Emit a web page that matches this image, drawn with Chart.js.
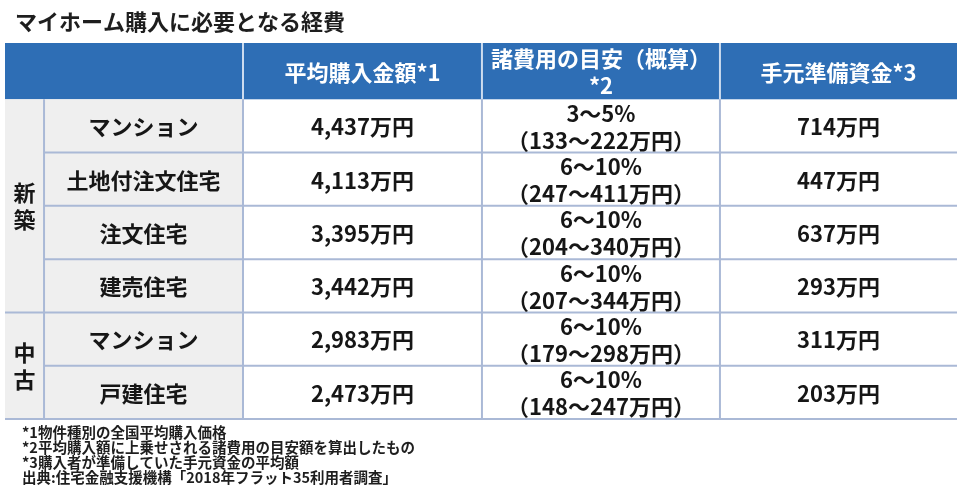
<!DOCTYPE html>
<html lang="ja">
<head>
<meta charset="utf-8">
<title>マイホーム購入に必要となる経費</title>
<script src="https://cdn.jsdelivr.net/npm/chart.js@4/dist/chart.umd.min.js"></script>
<style>
  html, body { margin: 0; padding: 0; background: #ffffff; }
  #wrap { width: 960px; height: 495px; }
</style>
</head>
<body>
<div id="wrap"><canvas id="c" width="960" height="495"></canvas></div>
<script>
// ---- data ----
const titleText = 'マイホーム購入に必要となる経費';
const headers = ['平均購入金額*1', '諸費用の目安（概算）\n*2', '手元準備資金*3'];
const groups = ['新築', '新築', '新築', '新築', '中古', '中古'];
const categories = ['マンション', '土地付注文住宅', '注文住宅', '建売住宅', 'マンション', '戸建住宅'];
const avgPrice = [4437, 4113, 3395, 3442, 2983, 2473];      // 万円
const rateMin = [3, 6, 6, 6, 6, 6];                         // %
const rateMax = [5, 10, 10, 10, 10, 10];                    // %
const feeMin = [133, 247, 204, 207, 179, 148];              // 万円
const feeMax = [222, 411, 340, 344, 298, 247];              // 万円
const ownFunds = [714, 447, 637, 293, 311, 203];            // 万円
const footnotes = [
  '*1物件種別の全国平均購入価格',
  '*2平均購入額に上乗せされる諸費用の目安額を算出したもの',
  '*3購入者が準備していた手元資金の平均額',
  '出典:住宅金融支援機構「2018年フラット35利用者調査」'
];
const rowKeys = ['header'].concat(categories.map((c, i) => groups[i] + c));

// ---- styling / layout (not data) ----
const FONT = '"Noto Sans CJK JP", "Noto Sans", sans-serif';
const style = {
  colEdges: [0, 4.1, 25.0, 50.1, 75.1, 100],   // x-scale units (0..100)
  headerExtra: 3,
  headerBlue: '#2e6eb5',
  headerDivider: '#cddcef',
  labelBg: '#efefef',
  border: '#aab9d6',
  text: '#161616',
  cellFont: 'bold 22px ' + FONT,
  titleFont: 'bold 22px ' + FONT,
  noteFont: 'bold 14.5px ' + FONT,
  lineGap: 27
};

const fmt = n => n.toLocaleString('en-US');

function cellText(i) {
  return [
    [categories[i]],
    [fmt(avgPrice[i]) + '万円'],
    [rateMin[i] + '～' + rateMax[i] + '%', '（' + feeMin[i] + '～' + feeMax[i] + '万円）'],
    [fmt(ownFunds[i]) + '万円']
  ];
}

function drawLines(ctx, lines, cx, cy, gap) {
  const n = lines.length;
  lines.forEach((t, k) => {
    ctx.fillText(t, cx, cy + (k - (n - 1) / 2) * gap);
  });
}

const tablePlugin = {
  id: 'tablePlugin',
  afterDraw(chart) {
    const ctx = chart.ctx;
    const xs = chart.scales.x, ys = chart.scales.y;
    const area = chart.chartArea;
    const X = style.colEdges.map(v => xs.getPixelForValue(v));
    const band = (area.bottom - area.top) / rowKeys.length;
    const rowTop = i => ys.getPixelForValue(i) - band / 2;
    const rowBot = i => ys.getPixelForValue(i) + band / 2;
    const left = X[0], right = X[X.length - 1];

    ctx.save();
    // title
    ctx.fillStyle = '#1e1e1e';
    ctx.font = style.titleFont;
    ctx.textAlign = 'left';
    ctx.textBaseline = 'middle';
    ctx.fillText(titleText, 15, area.top - 24);

    // header band
    const hTop = rowTop(0) - style.headerExtra, hBot = rowBot(0);
    ctx.fillStyle = style.headerBlue;
    ctx.fillRect(left, hTop, right - left, hBot - hTop);
    ctx.strokeStyle = style.headerDivider;
    ctx.lineWidth = 2;
    for (let c = 2; c <= 4; c++) {
      ctx.beginPath();
      ctx.moveTo(X[c], hTop);
      ctx.lineTo(X[c], hBot);
      ctx.stroke();
    }
    ctx.fillStyle = '#ffffff';
    ctx.font = style.cellFont;
    ctx.textAlign = 'center';
    headers.forEach((h, k) => {
      const cx = (X[k + 2] + X[k + 3]) / 2;
      drawLines(ctx, h.split('\n'), cx, (hTop + hBot) / 2 + 1, style.lineGap);
    });

    // label columns background
    const bTop = rowBot(0), bBot = rowBot(rowKeys.length - 1);
    ctx.fillStyle = style.labelBg;
    ctx.fillRect(left, bTop, X[2] - left, bBot - bTop);

    // grid lines
    ctx.strokeStyle = style.border;
    ctx.lineWidth = 2;
    for (let i = 1; i < rowKeys.length; i++) {
      const r = i - 1;
      const y = rowBot(i);
      const groupEnd = r === groups.length - 1 || groups[r + 1] !== groups[r];
      ctx.beginPath();
      ctx.moveTo(groupEnd ? left : X[1], y);
      ctx.lineTo(right, y);
      ctx.stroke();
    }
    for (let c = 1; c <= 4; c++) {
      ctx.beginPath();
      ctx.moveTo(X[c], bTop);
      ctx.lineTo(X[c], bBot);
      ctx.stroke();
    }

    // group labels (vertical)
    ctx.fillStyle = style.text;
    ctx.font = style.cellFont;
    let start = 0;
    for (let r = 0; r <= groups.length; r++) {
      if (r === groups.length || groups[r] !== groups[start]) {
        const top = rowTop(start + 1), bot = rowBot(r);
        drawLines(ctx, Array.from(groups[start]), (X[0] + X[1]) / 2, (top + bot) / 2, style.lineGap);
        start = r;
      }
    }

    // cells
    for (let r = 0; r < categories.length; r++) {
      const cy = ys.getPixelForValue(r + 1) + 1;
      cellText(r).forEach((lines, k) => {
        const cx = (X[k + 1] + X[k + 2]) / 2;
        drawLines(ctx, lines, cx, cy, style.lineGap);
      });
    }

    // footnotes
    ctx.font = style.noteFont;
    ctx.textAlign = 'left';
    ctx.fillStyle = '#1e1e1e';
    footnotes.forEach((t, k) => {
      ctx.fillText(t, 22, area.bottom + 13 + k * 15.3);
    });
    ctx.restore();
  }
};

new Chart(document.getElementById('c'), {
  type: 'bar',
  data: { labels: rowKeys, datasets: [] },
  options: {
    indexAxis: 'y',
    responsive: false,
    animation: false,
    events: [],
    layout: { padding: { top: 46, bottom: 76, left: 5, right: 3 } },
    plugins: { legend: { display: false }, tooltip: { enabled: false }, title: { display: false } },
    scales: {
      x: { type: 'linear', min: 0, max: 100, display: false },
      y: { type: 'category', offset: true, display: false }
    }
  },
  plugins: [tablePlugin]
});
</script>
</body>
</html>
